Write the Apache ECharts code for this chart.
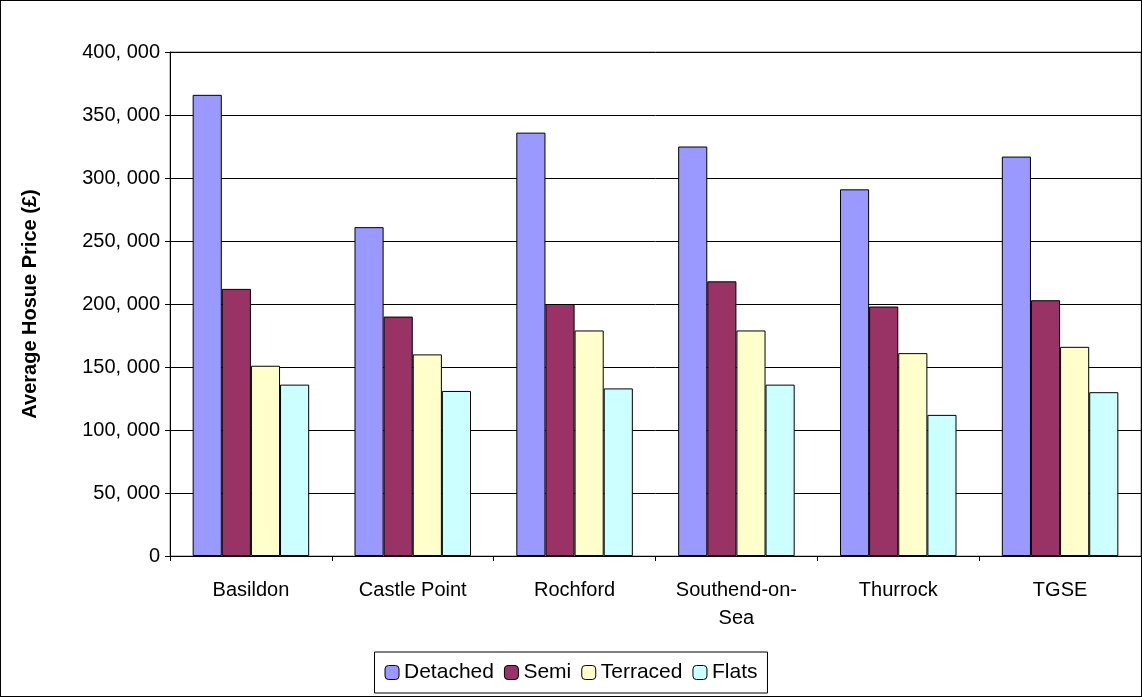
<!DOCTYPE html>
<html>
<head>
<meta charset="utf-8">
<script src="https://cdn.jsdelivr.net/npm/echarts@6/dist/echarts.min.js"></script>
<style>
html, body { margin: 0; padding: 0; background: #fff; }
#chart { width: 1140px; height: 695px; border: 1px solid #000; }
</style>
</head>
<body>
<div id="chart"></div>
<script>
var categories = ['Basildon', 'Castle Point', 'Rochford', 'Southend-on-\nSea', 'Thurrock', 'TGSE'];
var detached = [366000, 261000, 336000, 325000, 291000, 317000];
var semi = [212000, 190000, 200000, 218000, 198000, 203000];
var terraced = [151000, 160000, 179000, 179000, 161000, 166000];
var flats = [136000, 131000, 133000, 136000, 112000, 130000];

function bar(name, data, color) {
    return {
        name: name, type: 'bar', data: data, barGap: 0, barCategoryGap: '28%',
        itemStyle: { color: color, borderColor: '#000', borderWidth: 1 }
    };
}

var myChart = echarts.init(document.getElementById('chart'));
myChart.setOption({
    animation: false,
    textStyle: { fontFamily: 'Arial, Liberation Sans, sans-serif' },
    grid: { left: 169, right: 0, top: 51, bottom: 140, show: true, backgroundColor: '#fff', borderColor: '#808080', borderWidth: 1 },
    legend: {
        bottom: 3, left: 'center', itemWidth: 14, itemHeight: 14, itemGap: 10,
        borderColor: '#000', borderWidth: 1, padding: [10, 10],
        textStyle: { fontSize: 21, color: '#000' },
        itemStyle: { borderColor: '#000', borderWidth: 1 },
        data: ['Detached', 'Semi', 'Terraced', 'Flats']
    },
    xAxis: {
        type: 'category', data: categories,
        axisLine: { lineStyle: { color: '#000' } },
        axisTick: { show: true, lineStyle: { color: '#000' } },
        axisLabel: { fontSize: 20, color: '#000', margin: 20, lineHeight: 28, interval: 0 }
    },
    yAxis: {
        type: 'value', min: 0, max: 400000, interval: 50000,
        name: 'Average Hosue Price (£)', nameLocation: 'middle', nameGap: 130,
        nameTextStyle: { fontSize: 20, fontWeight: 'bold', color: '#000' },
        axisLine: { show: true, lineStyle: { color: '#000' } },
        axisTick: { show: true, lineStyle: { color: '#000' } },
        splitLine: { lineStyle: { color: '#000' } },
        axisLabel: { fontSize: 20, color: '#000', margin: 10,
            formatter: function (v) { return v.toLocaleString('en-GB').replace(',', ', '); } }
    },
    series: [
        bar('Detached', detached, '#9999FF'),
        bar('Semi', semi, '#993366'),
        bar('Terraced', terraced, '#FFFFCC'),
        bar('Flats', flats, '#CCFFFF')
    ]
});
</script>
</body>
</html>
